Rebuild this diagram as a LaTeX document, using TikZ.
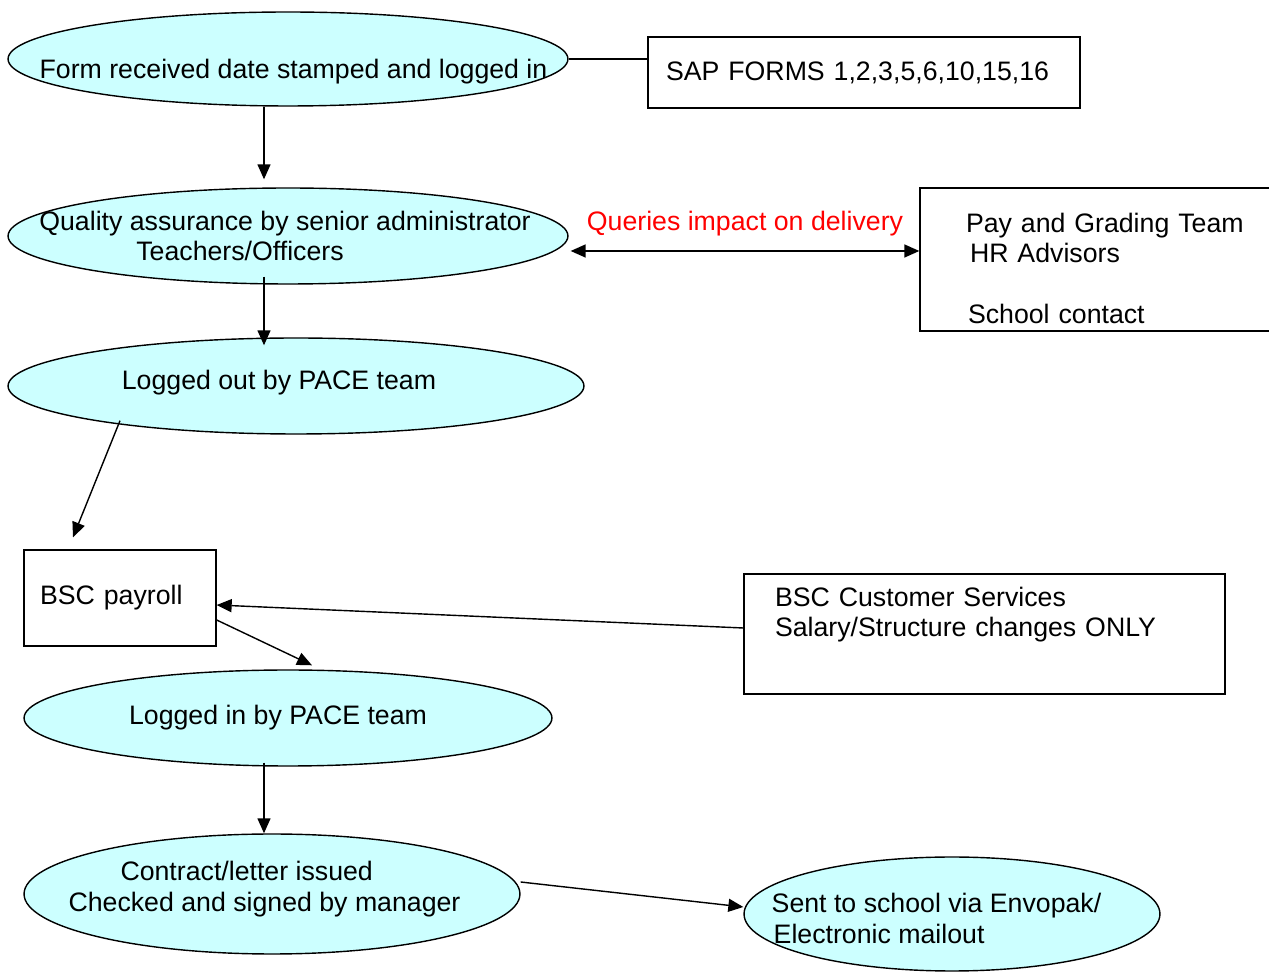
\documentclass[tikz,border=0pt]{standalone}
\usepackage{fontspec}
\setmainfont{Liberation Sans}
\usetikzlibrary{shapes.geometric,arrows.meta}

\definecolor{procfill}{HTML}{CCFFFF}
\tikzset{
  proc/.style={ellipse,draw,fill=procfill,inner sep=0pt},
  box/.style={rectangle,draw,align=left},
  txt/.style={align=left,inner sep=0pt},
}

\begin{document}
\begin{tikzpicture}[->,>={Triangle[length=0.3cm,width=0.26cm]},thick,x=0.02cm,y=-0.02cm,
  font=\fontsize{15.2}{17.2}\selectfont]
\useasboundingbox (0,0) rectangle (1269,972);

% left column
\node[proc,minimum width=11.2cm,minimum height=1.88cm,
  label={[txt,xshift=0.11cm,yshift=-0.26cm]center:Form received date stamped and logged in}] (recv) at (288,59) {};
\node[proc,minimum width=11.2cm,minimum height=1.92cm,
  label={[txt,xshift=-0.06cm]center:Quality assurance by senior administrator\\\hspace*{1.94cm}Teachers/Officers}] (qa) at (288,236) {};
\node[proc,minimum width=11.52cm,minimum height=1.92cm,
  label={[txt,xshift=-0.34cm,yshift=0.06cm]center:Logged out by PACE team}] (loggedout) at (296,386) {};
\node[box,minimum width=3.84cm,minimum height=1.92cm,inner xsep=0.32cm,text width=3.2cm] (payroll) at (120,598) {BSC payroll};
\node[proc,minimum width=10.56cm,minimum height=1.92cm,
  label={[txt,xshift=-0.2cm]center:Logged in by PACE team}] (loggedin) at (288,718) {};
\node[proc,minimum width=9.92cm,minimum height=2.4cm,
  label={[txt,xshift=-0.15cm,yshift=0.1cm]center:\hspace*{1.04cm}Contract/letter issued\\Checked and signed by manager}] (issued) at (272,894) {};

% right column
\node[box,minimum width=8.64cm,minimum height=1.42cm,inner xsep=0.36cm,text width=7.92cm] (sap) at (864,72.5) {SAP FORMS 1,2,3,5,6,10,15,16};
\node[box,minimum width=8cm,minimum height=2.86cm,inner xsep=0.92cm,text width=6.16cm] (team) at (1120,259.5)
  {\rule{0pt}{21pt}Pay and Grading Team\\\hspace*{0.08cm}HR Advisors\\\mbox{}\\\hspace*{0.04cm}School contact};
\node[box,minimum width=9.62cm,minimum height=2.4cm,inner xsep=0.62cm,text width=8.38cm] (custserv) at (984.5,634)
  {BSC Customer Services\\Salary/Structure changes ONLY\\\rule[-8pt]{0pt}{8pt}};
\node[proc,minimum width=8.32cm,minimum height=2.28cm,
  label={[txt,xshift=-0.31cm,yshift=-0.09cm]center:Sent to school via Envopak/\\\hspace*{0.04cm}Electronic mailout}] (sent) at (952,914) {};

\draw[-] (recv.east) -- (recv.east -| sap.west);
\path ([shift={(-24,0)}]recv.south) edge ([shift={(-24,-8)}]qa.north);
\path ([shift={(-24,-8)}]qa.south) edge ([shift={(-32,8)}]loggedout.north);
\path[<->] ([shift={(2,15)}]qa.east) edge node[above=0.16cm,text=red] {Queries impact on delivery} ([shift={(0,-8.5)}]team.west);
\path ([shift={(-176,-14)}]loggedout.south) edge ([shift={(-47,-12)}]payroll.north);
\path ([shift={(0,22)}]payroll.east) edge ([shift={(24,-4)}]loggedin.north);
\path ([shift={(0,-6)}]custserv.west) edge ([shift={(0,7)}]payroll.east);
\path ([shift={(-24,-4)}]loggedin.south) edge ([shift={(-8,0)}]issued.north);
\path ([shift={(0,-12)}]issued.east) edge ([shift={(0,-7)}]sent.west);
\end{tikzpicture}
\end{document}
